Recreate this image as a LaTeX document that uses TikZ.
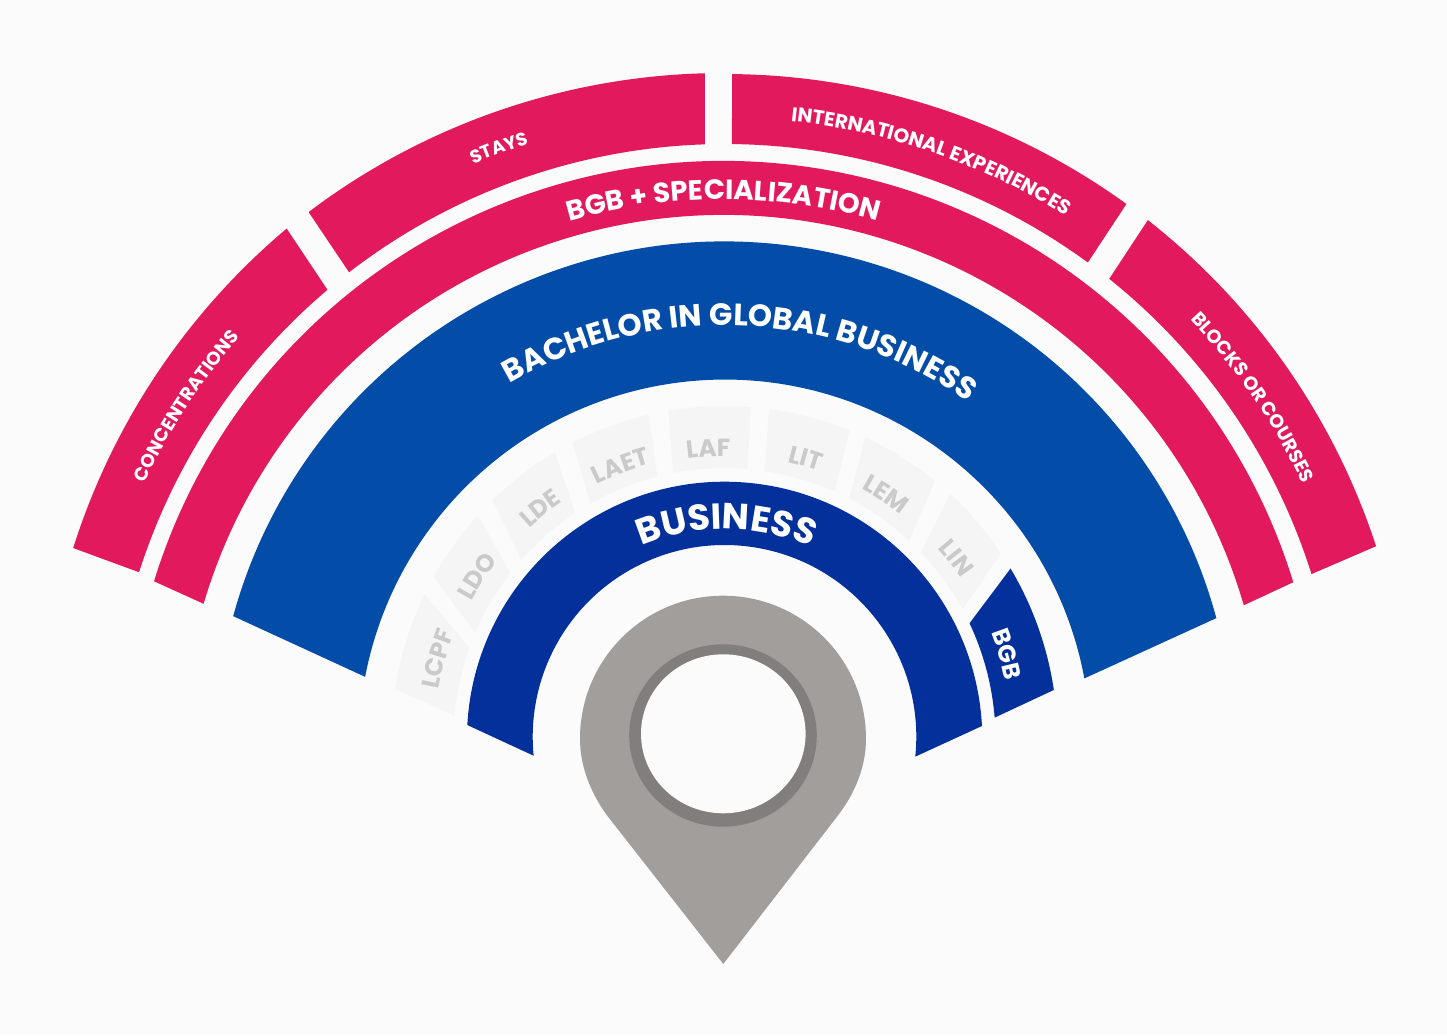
\documentclass[tikz,border=0pt]{standalone}
\usepackage{fontspec}
\setmainfont{Poppins}
\usetikzlibrary{calc,decorations.text}
\definecolor{bgc}{HTML}{FBFBFB}
\definecolor{rosec}{HTML}{E3195E}
\definecolor{bluec}{HTML}{034DA8}
\definecolor{navyc}{HTML}{03309A}
\definecolor{pinc}{HTML}{A19E9B}
\definecolor{ringc}{HTML}{817E7D}
\definecolor{tilec}{HTML}{F5F5F5}
\definecolor{tiletext}{HTML}{CACACA}
% color, outer centre, outer radius, a1, a2, inner centre, inner radius, b1, b2
\newcommand{\band}[9]{\fill[#1] ($(#2)+(#4:#3)$) arc[start angle=#4,end angle=#5,radius=#3] -- ($(#6)+(#9:#7)$) arc[start angle=#9,end angle=#8,radius=#7] -- cycle;}
% centre, radius, mid angle, half span, colour, size, text
\newcommand{\arctext}[7]{\path[decorate,decoration={text along path,text align=center,text color=#5,text={|\fontsize{#6}{#6}\selectfont\bfseries|#7}}] ($(#1)+({#3+#4}:#2)$) arc[start angle={#3+#4},end angle={#3-#4},radius=#2];}
\begin{document}
\begin{tikzpicture}[x=0.01cm,y=0.01cm]
\useasboundingbox (0,0) rectangle (1447,1035);
\fill[bgc] (0,0) rectangle (1447,1035);
\coordinate (cA) at (725,276);
\coordinate (cCon) at (730,279);
\coordinate (cSta) at (723,275);
\coordinate (cR) at (723.5,278);
\coordinate (cBo) at (724.5,284);
\coordinate (cBi) at (724.6,289.4);
\coordinate (cNo) at (724.6,295.6);
\coordinate (cNi) at (724.5,298.2);
\coordinate (cT) at (724.5,296);
% outer segments
\band{rosec}{cCon}{689}{162.43}{130.05}{cA}{615}{162.32}{130.27}
\band{rosec}{cSta}{687}{127.1}{91.52}{cA}{615}{127.68}{91.88}
\band{rosec}{cA}{685}{89.41}{54.12}{cA}{615}{89.35}{53.84}
\band{rosec}{cA}{685}{51.88}{18.1}{cA}{615}{51.33}{17.5}
% rose ring
\band{rosec}{cR}{596}{162.85}{17.05}{cR}{542}{163.58}{16.26}
% blue ring
\band{bluec}{cBo}{509.5}{164.65}{15.12}{cBi}{366}{169.17}{10.58}
% navy ring
\band{navyc}{cNo}{257.7}{176.8}{2.98}{cNi}{191.8}{185.66}{-5.95}
% BGB
\band{navyc}{cT}{333}{30.79}{8.47}{cT}{271}{25.28}{4.52}
% tiles
\band{tilec}{cT}{333}{171.31}{154.22}{cT}{271}{175.11}{160.34}
\band{tilec}{cT}{333}{150.9}{137.78}{cT}{271}{156.94}{142.24}
\band{tilec}{cT}{333}{134.18}{120.64}{cT}{271}{138.58}{123.38}
\band{tilec}{cT}{333}{117.13}{103.14}{cT}{271}{119.66}{104.35}
\band{tilec}{cT}{333}{99.72}{85.47}{cT}{271}{100.91}{85.17}
\band{tilec}{cT}{333}{82.3}{67.94}{cT}{271}{81.49}{66.01}
\band{tilec}{cT}{333}{64.98}{50.81}{cT}{271}{62.57}{47.02}
\band{tilec}{cT}{333}{47.35}{33.88}{cT}{271}{43.59}{28.56}
% pin
\fill[pinc] (723.3,71) -- (838.3,220) .. controls (855,242) and (866,268) .. (866,296.3) arc[start angle=0,end angle=180,x radius=143,y radius=143] .. controls (580,268) and (591,242) .. (606.7,220) -- cycle;
\fill[ringc] (723,299.5) ellipse[x radius=93.8,y radius=91.2];
\fill[bgc] (723.3,301.2) ellipse[x radius=82.3,y radius=79.5];
% texts
\arctext{cA}{643}{146.8}{30}{white}{5.3}{CONCENTRATIONS}
\arctext{cA}{646}{110.3}{15}{white}{5.2}{STAYS}
\arctext{cA}{641}{71}{25}{white}{5.65}{INTERNATIONAL EXPERIENCES}
\arctext{cA}{640}{34.4}{25}{white}{5.4}{BLOCKS OR COURSES}
\arctext{cR}{557.5}{90}{30}{white}{7.9}{BGB + SPECIALIZATION}
\arctext{cBo}{425.5}{87.7}{45}{white}{8.75}{BACHELOR IN GLOBAL BUSINESS}
\arctext{cNo}{210.5}{89.5}{45}{white}{10.3}{BUSINESS}
\arctext{cT}{287}{16.7}{17}{white}{6.9}{BGB}
\arctext{cT}{290}{164.4}{14}{tiletext}{7}{LCPF}
\arctext{cT}{288}{146.7}{14}{tiletext}{7}{LDO}
\arctext{cT}{287}{128.6}{14}{tiletext}{7}{LDE}
\arctext{cT}{285}{110.8}{14}{tiletext}{7}{LAET}
\arctext{cT}{283}{93.2}{14}{tiletext}{7}{LAF}
\arctext{cT}{284}{73.8}{14}{tiletext}{7}{LIT}
\arctext{cT}{285}{56.5}{14}{tiletext}{7}{LEM}
\arctext{cT}{286}{38}{14}{tiletext}{7}{LIN}
\end{tikzpicture}
\end{document}
